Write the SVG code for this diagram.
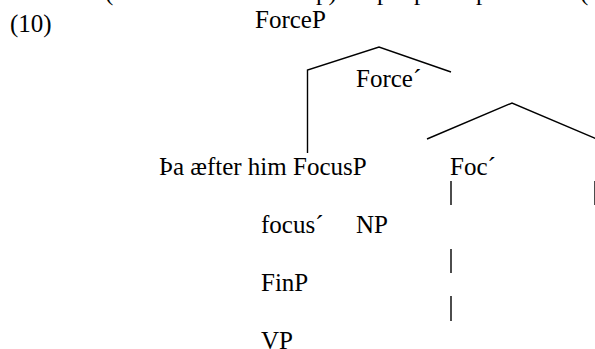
<svg xmlns="http://www.w3.org/2000/svg" width="595" height="349" viewBox="0 0 595 349">
<style>
text{font-family:"Liberation Serif","Times New Roman",serif;font-size:25px;fill:#000}
.ln{fill:none;stroke:#000;stroke-width:1.4}
</style>
<rect width="595" height="349" fill="#fff"/>
<g id="cutoff">
<text x="105" y="0">(</text>
<text x="316" y="0">p)</text>
<text x="377" y="0">p</text>
<text x="414" y="0">p</text>
<text x="476" y="0">p</text>
<text x="580" y="0">(</text>
</g>
<g id="label"><text x="10" y="32">(10)</text></g>
<g id="ForceP"><text x="255" y="28">ForceP</text></g>
<g id="ForceBar"><text x="356" y="87">Force´</text></g>
<g id="FocusP"><text x="159" y="175">Þa æfter him FocusP</text></g>
<g id="FocBar"><text x="450" y="175">Foc´</text></g>
<g id="focusBar"><text x="261" y="233">focus´</text></g>
<g id="NP"><text x="356" y="233">NP</text></g>
<g id="FinP"><text x="261" y="291">FinP</text></g>
<g id="VP"><text x="261" y="349">VP</text></g>
<g id="connectors">
<polyline class="ln" points="307.5,153 307.5,70 379,47 451,72"/>
<polyline class="ln" points="427,139 512,103 597,139"/>
<line class="ln" x1="451" y1="181" x2="451" y2="205"/>
<line class="ln" x1="451" y1="249" x2="451" y2="273"/>
<line class="ln" x1="451" y1="296" x2="451" y2="321"/>
<line class="ln" x1="595" y1="181" x2="595" y2="205"/>
</g>
</svg>
